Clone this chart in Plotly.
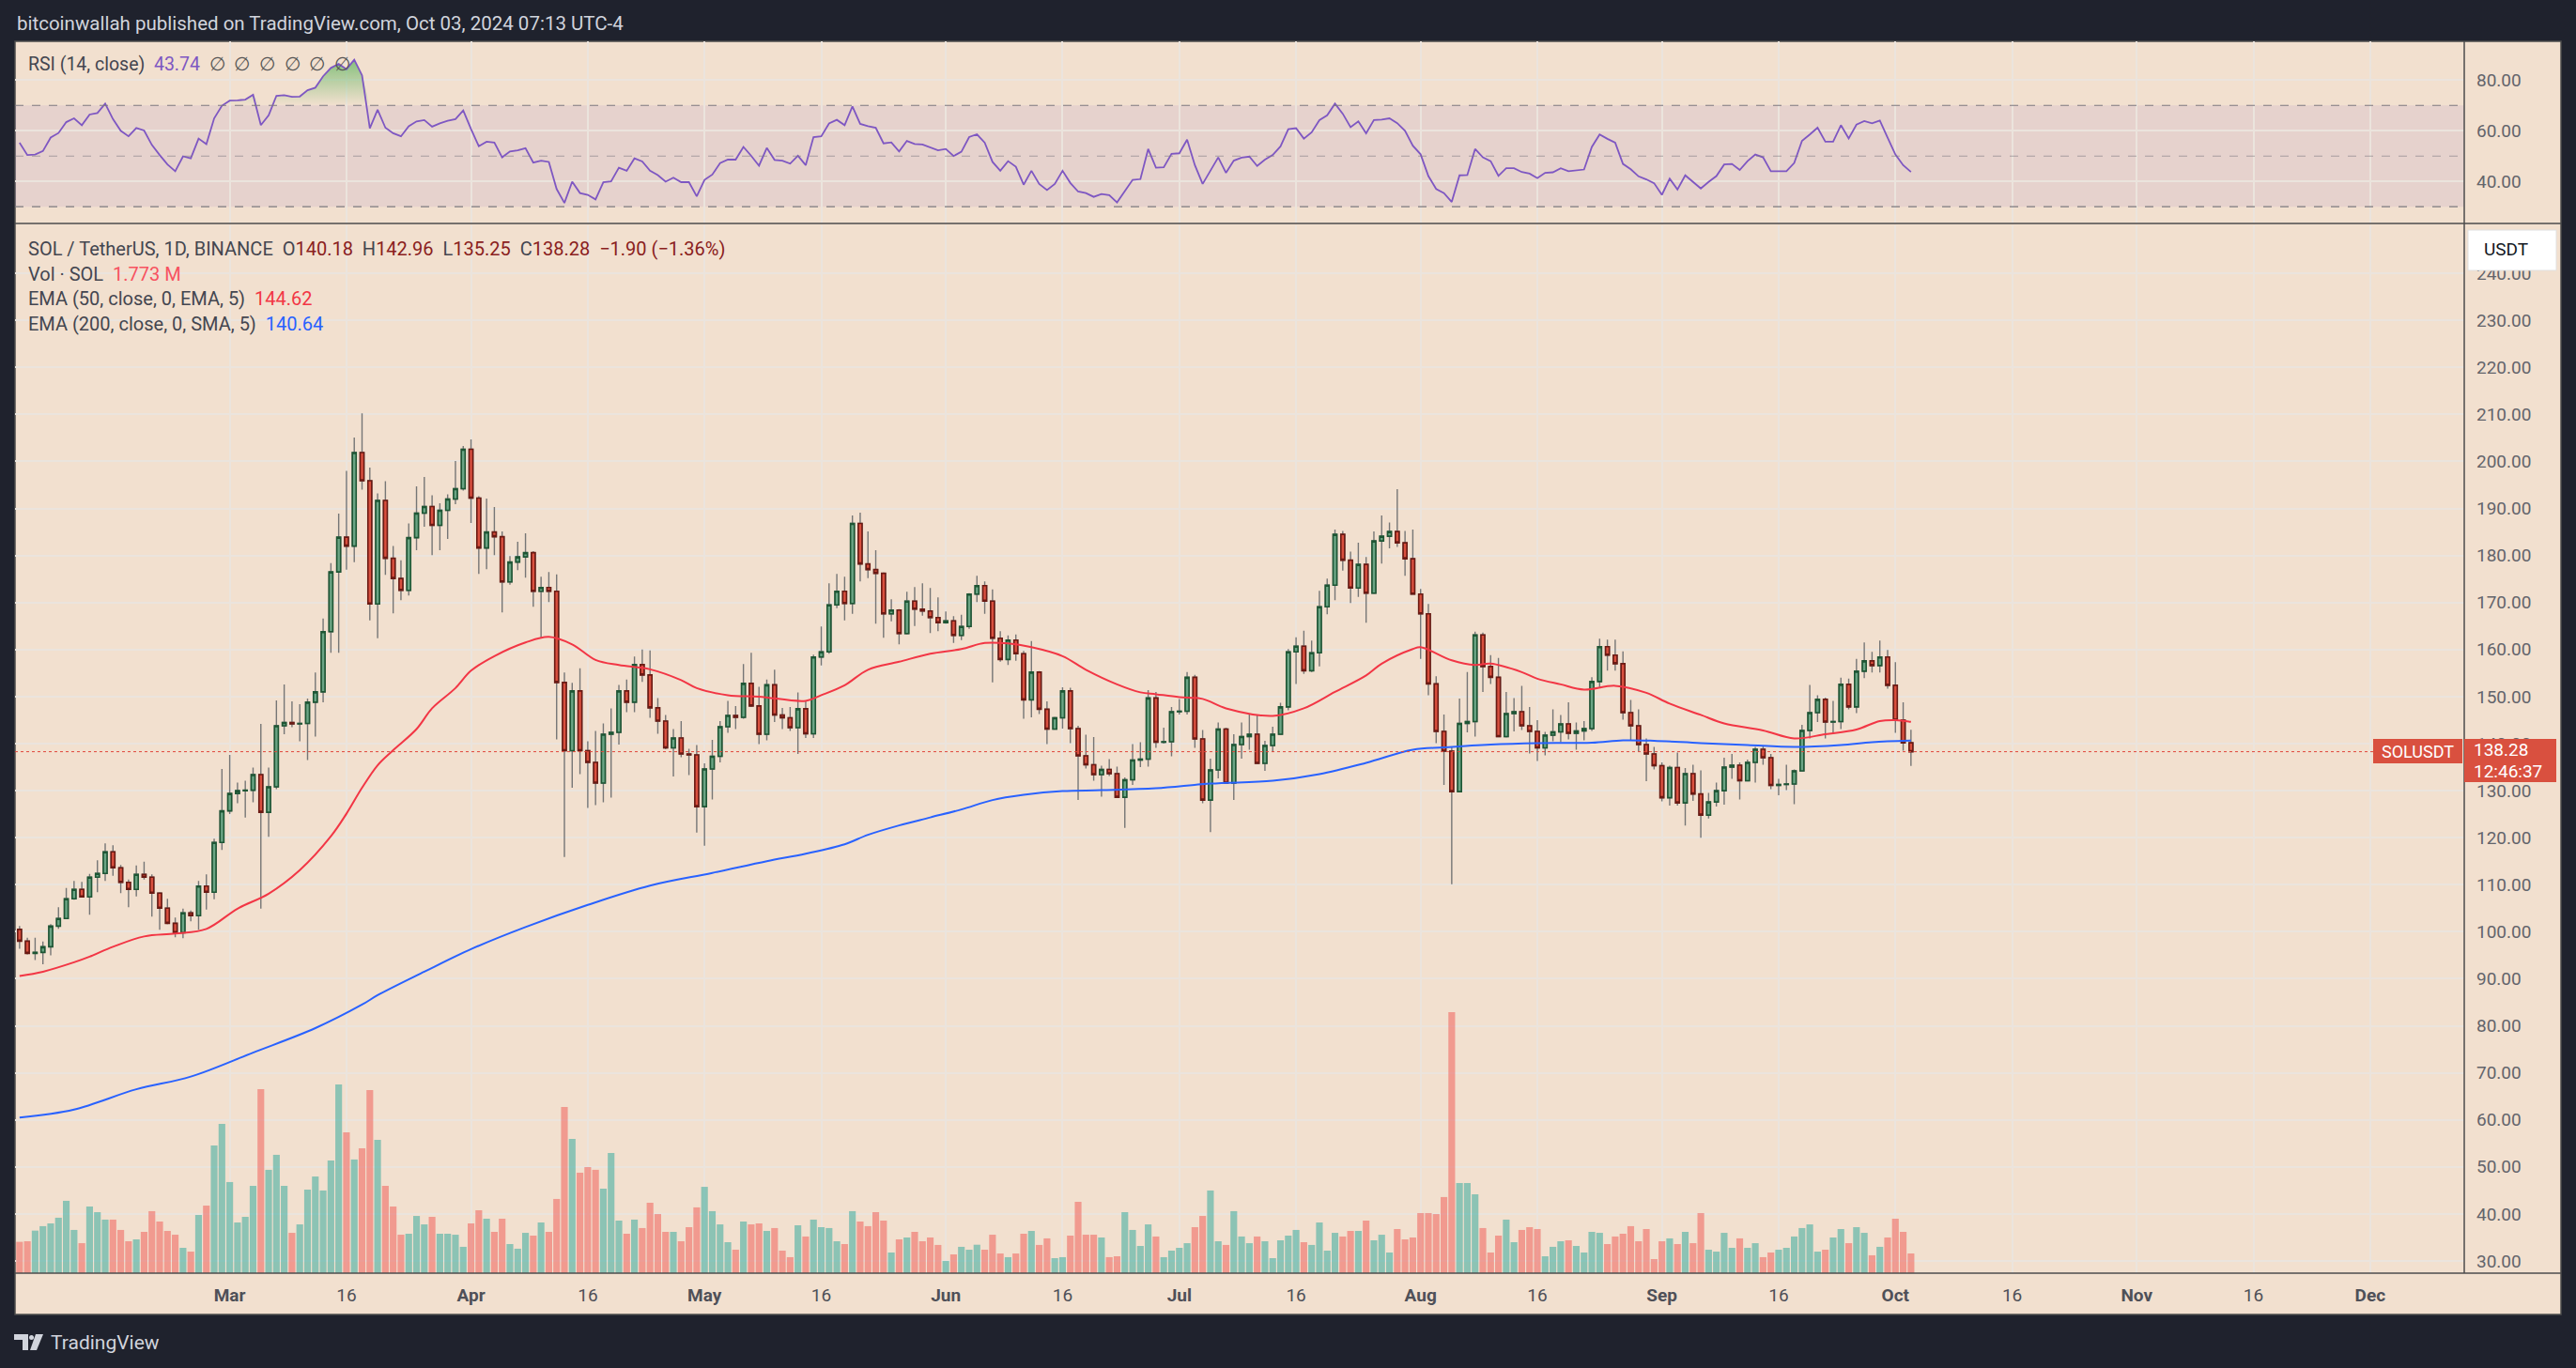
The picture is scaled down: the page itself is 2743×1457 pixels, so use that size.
import pandas as pd
import plotly.graph_objects as go

# daily SOL/USDT candles, 2024-02-03 .. 2024-10-03
opens = [100.5, 98.0, 95.4, 95.6, 96.8, 101.2, 102.8, 107.0, 109.0, 107.4,
         111.6, 112.4, 117.0, 113.6, 110.5, 109.0, 112.2, 111.6, 108.2, 105.0,
         101.8, 99.8, 104.0, 103.4, 109.7, 108.4, 119.0, 125.7, 129.4, 130.0,
         130.1, 133.4, 125.4, 130.8, 143.8, 144.5, 144.2, 144.3, 148.8, 151.0,
         163.8, 176.5, 183.9, 182.0, 201.9, 195.9, 169.7, 191.7, 179.4, 175.1,
         172.6, 183.8, 189.0, 190.4, 186.4, 189.6, 192.0, 194.2, 202.6, 192.2,
         181.6, 185.0, 184.0, 174.4, 178.6, 179.7, 180.6, 172.4, 173.2, 172.4,
         153.0, 138.5, 151.2, 138.5, 136.0, 131.6, 142.0, 142.4, 151.2, 148.8,
         156.8, 154.6, 147.6, 144.8, 139.1, 141.2, 137.8, 137.6, 126.6, 134.6,
         137.3, 143.6, 146.0, 145.6, 152.8, 148.0, 142.0, 152.5, 146.1, 145.5,
         143.4, 147.4, 142.1, 158.4, 159.5, 169.5, 172.4, 169.8, 186.8, 178.2,
         177.0, 176.2, 167.6, 168.4, 163.4, 170.3, 168.6, 168.2, 166.8, 165.7,
         166.1, 163.0, 164.9, 171.8, 173.6, 170.3, 162.4, 157.9, 162.0, 159.1,
         149.3, 155.2, 147.3, 143.1, 145.5, 151.2, 143.2, 137.4, 135.5, 133.4,
         134.5, 133.6, 128.6, 132.3, 136.5, 136.7, 149.7, 140.3, 140.4, 146.8,
         146.9, 154.1, 141.0, 128.0, 134.4, 143.1, 131.6, 139.8, 141.5, 142.0,
         135.8, 139.6, 142.0, 147.8, 159.5, 160.7, 155.5, 159.3, 169.1, 173.7,
         184.5, 179.0, 173.1, 178.1, 172.0, 183.1, 184.1, 185.1, 182.7, 179.3,
         171.8, 167.6, 152.7, 142.6, 138.4, 129.8, 144.3, 144.7, 163.1, 156.4,
         154.1, 141.5, 146.4, 146.8, 143.8, 142.6, 139.1, 141.8, 142.5, 144.2,
         142.2, 142.7, 143.2, 153.2, 160.6, 158.8, 157.0, 146.6, 143.8, 139.8,
         137.8, 135.3, 128.5, 134.9, 127.4, 133.6, 129.3, 124.8, 127.6, 130.0,
         135.0, 135.4, 132.1, 136.0, 138.8, 137.0, 131.1, 131.3, 131.4, 134.2,
         142.8, 146.6, 149.4, 144.6, 144.7, 152.6, 147.8, 155.4, 157.6, 156.6,
         158.4, 152.4, 145.0, 140.18]
highs = [101.2, 98.7, 98.7, 97.9, 101.6, 105.2, 109.3, 110.8, 110.6, 112.3,
         115.2, 118.8, 118.4, 114.2, 111.1, 114.1, 114.9, 112.2, 108.4, 107.0,
         103.0, 104.9, 104.5, 110.8, 112.2, 119.8, 134.6, 137.6, 131.7, 132.1,
         134.9, 144.2, 134.9, 149.2, 152.6, 149.0, 148.4, 149.6, 155.1, 166.6,
         178.4, 188.9, 198.0, 205.1, 210.2, 198.7, 193.2, 195.8, 182.0, 179.0,
         186.8, 194.7, 196.7, 192.8, 191.1, 193.0, 200.1, 203.3, 204.7, 192.6,
         192.1, 190.3, 185.1, 179.9, 182.9, 184.7, 180.9, 175.5, 176.5, 176.0,
         155.1, 152.9, 156.0, 140.5, 142.7, 144.3, 147.5, 152.5, 153.6, 158.5,
         160.0, 159.8, 149.7, 146.1, 143.1, 144.8, 138.9, 139.7, 135.8, 140.8,
         144.8, 149.1, 148.0, 156.9, 159.3, 152.1, 153.6, 155.7, 147.6, 147.8,
         150.9, 149.0, 158.9, 164.9, 174.1, 176.1, 175.5, 188.5, 189.1, 185.1,
         181.1, 176.4, 170.7, 168.6, 172.3, 173.3, 174.1, 173.1, 171.1, 168.1,
         167.1, 167.4, 172.0, 175.7, 174.5, 172.8, 163.9, 163.0, 163.2, 159.7,
         161.8, 155.4, 149.0, 145.7, 152.0, 151.9, 143.8, 141.9, 141.4, 135.3,
         136.7, 135.1, 132.8, 139.9, 140.3, 151.4, 151.0, 143.4, 147.8, 149.5,
         155.2, 154.6, 142.9, 136.8, 144.5, 143.4, 142.0, 144.5, 146.2, 146.2,
         140.6, 143.6, 148.7, 160.1, 162.6, 164.0, 161.9, 172.5, 175.1, 185.5,
         185.2, 180.8, 182.7, 179.7, 185.1, 188.5, 187.0, 194.1, 185.2, 185.5,
         172.9, 169.7, 154.3, 146.2, 139.4, 149.6, 155.2, 163.8, 163.6, 158.8,
         158.2, 151.0, 149.7, 152.3, 147.8, 145.0, 142.5, 147.3, 146.1, 148.8,
         144.5, 144.8, 154.1, 162.3, 162.1, 162.1, 159.6, 149.3, 147.3, 141.1,
         139.3, 136.0, 135.3, 138.1, 134.8, 135.5, 134.3, 129.5, 131.7, 137.0,
         137.8, 136.0, 136.6, 139.3, 139.5, 137.8, 132.5, 135.5, 134.5, 144.0,
         152.5, 150.3, 149.8, 149.1, 154.0, 153.8, 158.0, 161.5, 159.5, 161.9,
         159.9, 157.3, 148.8, 142.96]
lows = [96.4, 95.2, 94.0, 93.1, 95.0, 100.6, 102.8, 106.8, 107.4, 103.6,
        108.4, 110.8, 111.9, 108.2, 105.2, 107.5, 111.1, 103.2, 100.4, 101.6,
        98.8, 98.6, 102.2, 100.4, 104.7, 106.9, 117.4, 125.0, 127.3, 124.3,
        127.5, 104.9, 120.2, 130.3, 142.0, 143.5, 140.5, 136.5, 141.5, 148.8,
        159.3, 159.3, 177.0, 178.6, 194.0, 166.2, 162.4, 175.9, 167.7, 170.5,
        171.5, 181.1, 186.1, 180.1, 181.1, 183.5, 190.9, 193.8, 186.9, 176.1,
        177.1, 180.1, 167.9, 173.8, 176.9, 175.3, 169.1, 162.5, 170.1, 140.9,
        115.9, 130.6, 133.5, 126.3, 126.9, 127.5, 128.5, 139.8, 146.7, 146.7,
        153.1, 145.5, 142.1, 138.8, 133.0, 137.1, 133.3, 121.1, 118.3, 128.1,
        136.0, 142.3, 143.1, 145.3, 147.8, 139.9, 140.7, 144.6, 143.1, 142.7,
        137.8, 141.2, 141.2, 156.6, 159.1, 168.8, 166.2, 167.6, 174.5, 175.2,
        165.5, 162.5, 166.0, 161.1, 163.2, 165.0, 167.2, 163.5, 163.9, 165.5,
        161.4, 162.0, 164.4, 170.1, 167.6, 153.0, 157.4, 156.7, 157.6, 145.3,
        145.6, 146.3, 139.9, 143.0, 143.2, 140.1, 128.0, 134.7, 132.1, 128.7,
        133.1, 128.4, 122.1, 131.2, 135.0, 135.1, 139.1, 140.0, 137.3, 146.2,
        146.2, 139.1, 127.3, 121.2, 132.6, 131.4, 128.0, 136.8, 138.7, 135.6,
        134.2, 138.2, 141.9, 147.1, 152.7, 154.8, 155.2, 156.4, 167.5, 170.5,
        176.8, 169.9, 171.2, 165.7, 171.9, 178.3, 181.5, 181.8, 175.7, 171.7,
        158.0, 150.3, 140.1, 131.2, 110.1, 129.6, 142.4, 141.5, 151.0, 152.7,
        141.4, 141.3, 142.6, 142.9, 137.9, 136.3, 137.5, 140.5, 140.3, 140.9,
        138.7, 140.7, 142.7, 151.8, 155.5, 155.5, 145.1, 140.6, 138.3, 132.0,
        134.5, 127.7, 126.8, 126.8, 122.6, 127.8, 120.0, 124.1, 126.6, 127.0,
        132.5, 128.1, 132.0, 131.7, 135.5, 130.3, 129.0, 130.1, 127.1, 134.1,
        141.1, 144.6, 141.1, 142.1, 143.1, 147.3, 146.5, 153.9, 155.1, 155.1,
        151.7, 142.3, 138.5, 135.25]
closes = [98.0, 95.4, 95.6, 96.8, 101.2, 102.8, 107.0, 109.0, 107.4, 111.6,
          112.4, 117.0, 113.6, 110.5, 109.0, 112.2, 111.6, 108.2, 105.0, 101.8,
          99.8, 104.0, 103.4, 109.7, 108.4, 119.0, 125.7, 129.4, 130.0, 130.1,
          133.4, 125.4, 130.8, 143.8, 144.5, 144.2, 144.3, 148.8, 151.0, 163.8,
          176.5, 183.9, 182.0, 201.9, 195.9, 169.7, 191.7, 179.4, 175.1, 172.6,
          183.8, 189.0, 190.4, 186.4, 189.6, 192.0, 194.2, 202.6, 192.2, 181.6,
          185.0, 184.0, 174.4, 178.6, 179.7, 180.6, 172.4, 173.2, 172.4, 153.0,
          138.5, 151.2, 138.5, 136.0, 131.6, 142.0, 142.4, 151.2, 148.8, 156.8,
          154.6, 147.6, 144.8, 139.1, 141.2, 137.8, 137.6, 126.6, 134.6, 137.3,
          143.6, 146.0, 145.6, 152.8, 148.0, 142.0, 152.5, 146.1, 145.5, 143.4,
          147.4, 142.1, 158.4, 159.5, 169.5, 172.4, 169.8, 186.8, 178.2, 177.0,
          176.2, 167.6, 168.4, 163.4, 170.3, 168.6, 168.2, 166.8, 165.7, 166.1,
          163.0, 164.9, 171.8, 173.6, 170.3, 162.4, 157.9, 162.0, 159.1, 149.3,
          155.2, 147.3, 143.1, 145.5, 151.2, 143.2, 137.4, 135.5, 133.4, 134.5,
          133.6, 128.6, 132.3, 136.5, 136.7, 149.7, 140.3, 140.4, 146.8, 146.9,
          154.1, 141.0, 128.0, 134.4, 143.1, 131.6, 139.8, 141.5, 142.0, 135.8,
          139.6, 142.0, 147.8, 159.5, 160.7, 155.5, 159.3, 169.1, 173.7, 184.5,
          179.0, 173.1, 178.1, 172.0, 183.1, 184.1, 185.1, 182.7, 179.3, 171.8,
          167.6, 152.7, 142.6, 138.4, 129.8, 144.3, 144.7, 163.1, 156.4, 154.1,
          141.5, 146.4, 146.8, 143.8, 142.6, 139.1, 141.8, 142.5, 144.2, 142.2,
          142.7, 143.2, 153.2, 160.6, 158.8, 157.0, 146.6, 143.8, 139.8, 137.8,
          135.3, 128.5, 134.9, 127.4, 133.6, 129.3, 124.8, 127.6, 130.0, 135.0,
          135.4, 132.1, 136.0, 138.8, 137.0, 131.1, 131.3, 131.4, 134.2, 142.8,
          146.6, 149.4, 144.6, 144.7, 152.6, 147.8, 155.4, 157.6, 156.6, 158.4,
          152.4, 145.0, 140.18, 138.28]
# volume, millions of SOL
volumes = [2.82, 2.87, 3.83, 4.23, 4.48, 4.99, 6.51, 3.89, 2.70, 6.00,
           5.49, 4.82, 4.82, 3.89, 2.87, 3.04, 3.72, 5.58, 4.65, 3.80,
           3.46, 2.28, 1.94, 5.24, 6.08, 11.49, 13.44, 8.20, 4.56, 5.07,
           7.86, 16.56, 9.30, 10.65, 7.86, 3.63, 4.39, 7.52, 8.70, 7.44,
           10.14, 16.99, 12.68, 10.23, 11.24, 16.48, 12.00, 7.86, 6.00, 3.46,
           3.55, 5.15, 4.39, 5.07, 3.55, 3.55, 3.46, 2.37, 4.48, 5.66,
           4.90, 3.72, 4.90, 2.62, 2.20, 3.63, 3.38, 4.56, 3.72, 6.68,
           14.96, 12.08, 9.04, 9.55, 9.30, 7.61, 10.82, 4.73, 3.55, 4.82,
           4.06, 6.34, 5.32, 3.72, 3.72, 2.87, 4.14, 5.92, 7.77, 5.58,
           4.39, 2.79, 2.11, 4.65, 4.39, 4.48, 3.80, 4.06, 2.03, 1.44,
           4.31, 3.30, 4.82, 4.14, 4.06, 2.87, 2.62, 5.58, 4.65, 4.23,
           5.49, 4.73, 1.86, 3.04, 3.21, 3.72, 2.87, 3.21, 2.54, 1.10,
           1.69, 2.37, 2.11, 2.56, 2.11, 3.46, 1.77, 1.44, 1.77, 3.55,
           3.80, 2.54, 3.13, 1.35, 1.44, 3.38, 6.42, 3.46, 3.46, 3.21,
           1.44, 1.52, 5.49, 3.89, 2.45, 4.39, 3.30, 1.44, 2.03, 2.28,
           2.70, 4.14, 5.15, 7.44, 2.87, 2.54, 5.58, 3.30, 2.70, 3.30,
           2.87, 1.35, 2.96, 3.38, 3.89, 2.79, 2.54, 4.56, 2.03, 3.63,
           3.30, 3.80, 3.80, 4.73, 2.96, 3.46, 1.86, 3.97, 3.04, 3.21,
           5.41, 5.41, 5.32, 6.85, 23.49, 8.11, 8.11, 7.10, 4.06, 1.86,
           3.38, 4.82, 2.79, 3.89, 4.14, 3.97, 1.52, 2.37, 2.87, 2.96,
           2.45, 1.86, 3.72, 3.63, 2.62, 3.30, 3.55, 4.23, 2.87, 3.97,
           1.27, 2.87, 3.13, 2.62, 3.72, 2.70, 5.41, 2.11, 1.94, 3.63,
           2.28, 3.13, 2.28, 2.70, 1.44, 1.86, 2.11, 2.28, 3.30, 4.06,
           4.39, 1.94, 2.11, 3.21, 3.97, 2.70, 4.14, 3.63, 1.61, 2.37,
           3.21, 4.90, 3.72, 1.773]
rsi = [55.3, 50.4, 50.6, 52.0, 57.3, 59.1, 63.4, 64.9, 62.2, 66.4,
       67.0, 70.7, 64.6, 60.0, 57.8, 61.1, 60.1, 54.4, 50.4, 46.7,
       44.0, 49.9, 49.1, 56.9, 54.7, 64.9, 69.9, 71.9, 72.0, 72.3,
       74.2, 62.2, 66.1, 73.8, 74.0, 73.4, 73.5, 76.0, 77.0, 81.5,
       84.8, 86.4, 84.3, 88.0, 81.9, 61.0, 68.3, 61.2, 59.0, 57.8,
       61.8, 63.7, 64.2, 61.6, 62.9, 63.9, 64.6, 68.0, 60.7, 53.9,
       55.7, 55.3, 49.5, 51.8, 52.3, 53.1, 47.4, 48.2, 47.7, 37.0,
       31.5, 39.9, 35.4, 34.7, 32.9, 39.7, 40.0, 45.4, 44.2, 49.1,
       47.9, 44.2, 42.5, 39.9, 41.5, 39.7, 39.7, 34.1, 40.6, 42.7,
       47.2, 48.6, 48.6, 53.6, 50.1, 46.2, 53.2, 48.5, 48.2, 47.0,
       50.1, 46.4, 57.5, 57.8, 62.9, 64.3, 62.2, 69.6, 62.7, 61.8,
       61.2, 55.0, 55.4, 51.8, 56.0, 54.8, 54.6, 53.3, 52.3, 52.8,
       50.0, 51.7, 57.5, 58.6, 55.3, 47.7, 44.2, 48.0, 45.8, 38.7,
       44.2, 39.0, 36.6, 39.0, 44.2, 39.4, 36.0, 35.4, 33.9, 35.0,
       34.6, 31.7, 36.0, 40.6, 40.9, 52.8, 45.4, 45.6, 50.9, 51.1,
       56.5, 46.4, 39.0, 44.3, 49.5, 43.4, 48.2, 49.4, 49.8, 46.1,
       48.6, 50.4, 53.8, 60.6, 61.0, 56.9, 59.4, 64.2, 66.1, 70.7,
       66.7, 61.4, 63.7, 59.0, 64.2, 64.4, 64.9, 63.0, 60.0, 54.1,
       50.7, 42.1, 37.0, 35.4, 31.9, 42.4, 42.5, 52.8, 49.5, 48.0,
       42.2, 45.2, 45.2, 43.7, 43.1, 41.3, 43.4, 43.6, 45.2, 44.0,
       44.3, 44.7, 53.6, 58.5, 56.8, 55.3, 46.9, 44.8, 42.0, 40.8,
       39.3, 34.7, 41.1, 36.8, 42.4, 39.9, 37.2, 39.8, 42.1, 46.7,
       46.9, 44.5, 48.0, 50.6, 49.5, 44.0, 44.0, 44.0, 47.3, 56.0,
       58.5, 61.2, 55.7, 55.7, 62.2, 57.0, 62.4, 63.8, 62.9, 64.0,
       57.3, 50.6, 46.4, 43.74]

ema50_dates = ["2024-02-03", "2024-02-06", "2024-02-10", "2024-02-12", "2024-02-15",
               "2024-02-19", "2024-02-23", "2024-02-27", "2024-03-02", "2024-03-06",
               "2024-03-10", "2024-03-14", "2024-03-16", "2024-03-18", "2024-03-20",
               "2024-03-22", "2024-03-25", "2024-03-27", "2024-03-30", "2024-04-01",
               "2024-04-04", "2024-04-08", "2024-04-11", "2024-04-14", "2024-04-17",
               "2024-04-20", "2024-04-24", "2024-04-28", "2024-04-30", "2024-05-04",
               "2024-05-08", "2024-05-14", "2024-05-16", "2024-05-19", "2024-05-22",
               "2024-05-26", "2024-05-30", "2024-06-03", "2024-06-06", "2024-06-09",
               "2024-06-12", "2024-06-16", "2024-06-19", "2024-06-23", "2024-06-26",
               "2024-06-28", "2024-07-01", "2024-07-04", "2024-07-07", "2024-07-13",
               "2024-07-17", "2024-07-21", "2024-07-25", "2024-07-27", "2024-07-31",
               "2024-08-01", "2024-08-05", "2024-08-08", "2024-08-10", "2024-08-14",
               "2024-08-16", "2024-08-19", "2024-08-22", "2024-08-26", "2024-08-30",
               "2024-09-02", "2024-09-06", "2024-09-09", "2024-09-14", "2024-09-18",
               "2024-09-22", "2024-09-26", "2024-09-29", "2024-10-01", "2024-10-03"]
ema50_vals = [90.6, 91.5, 93.5, 94.7, 96.8, 99.0, 99.6, 100.6, 104.9, 108.1,
              113.1, 120.3, 125.1, 130.6, 135.4, 138.6, 143.1, 147.5, 151.8, 155.5,
              158.6, 161.5, 162.7, 161.1, 157.8, 156.7, 155.8, 153.5, 151.8, 150.3,
              150.0, 149.1, 150.3, 152.4, 155.7, 157.4, 159.1, 160.1, 161.4, 161.3,
              160.5, 158.6, 155.7, 152.6, 150.9, 150.5, 149.9, 149.5, 147.5, 145.9,
              147.5, 151.0, 154.5, 157.0, 160.1, 160.5, 157.7, 156.7, 157.0, 155.2,
              153.8, 152.6, 151.5, 152.3, 150.8, 148.5, 146.1, 144.3, 142.8, 141.1,
              142.0, 143.0, 144.8, 145.0, 144.62]
ema200_dates = ["2024-02-03", "2024-02-10", "2024-02-18", "2024-02-25", "2024-03-04",
                "2024-03-12", "2024-03-18", "2024-03-20", "2024-03-26", "2024-04-01",
                "2024-04-08", "2024-04-16", "2024-04-24", "2024-05-02", "2024-05-09",
                "2024-05-14", "2024-05-19", "2024-05-22", "2024-05-26", "2024-05-30",
                "2024-06-03", "2024-06-07", "2024-06-11", "2024-06-16", "2024-06-21",
                "2024-06-28", "2024-07-05", "2024-07-13", "2024-07-19", "2024-07-25",
                "2024-07-31", "2024-08-04", "2024-08-10", "2024-08-16", "2024-08-23",
                "2024-08-27", "2024-08-31", "2024-09-06", "2024-09-12", "2024-09-18",
                "2024-09-24", "2024-09-28", "2024-10-03"]
ema200_vals = [60.5, 62.2, 66.5, 69.2, 74.3, 79.5, 84.5, 86.5, 91.5, 96.3,
               101.0, 105.7, 109.8, 112.5, 115.0, 116.6, 118.6, 120.6, 122.6, 124.3,
               126.0, 128.0, 129.1, 129.9, 130.1, 130.5, 131.5, 132.1, 133.5, 135.9,
               138.7, 139.2, 139.8, 140.1, 140.2, 140.7, 140.6, 140.1, 139.7, 139.3,
               139.7, 140.3, 140.64]

tick_dates = ["2024-03-01", "2024-03-16", "2024-04-01", "2024-04-16", "2024-05-01",
              "2024-05-16", "2024-06-01", "2024-06-16", "2024-07-01", "2024-07-16",
              "2024-08-01", "2024-08-16", "2024-09-01", "2024-09-16", "2024-10-01",
              "2024-10-16", "2024-11-01", "2024-11-16", "2024-12-01"]
tick_text = ["Mar", "16", "Apr", "16", "May", "16", "Jun", "16", "Jul", "16",
             "Aug", "16", "Sep", "16", "Oct", "16", "Nov", "16", "Dec"]
price_ticks = list(range(30, 250, 10))
rsi_ticks = [40, 60, 80]

dates = pd.date_range("2024-02-03", periods=len(closes), freq="D")

W, H = 2743, 1457
def px(x):
    return x / W
def py(y):
    return 1 - y / H

BG = "#f2e0cf"
DARK = "#1f222d"
GRID = "#ebe4dd"
FONT = "Roboto, Liberation Sans, sans-serif"
UP_BODY, UP_EDGE = "#6ba585", "#1e5634"
DN_BODY, DN_EDGE = "#d9503f", "#6b1a13"
WICK = "#767676"

is_up = [c >= o for o, c in zip(opens, closes)]
vol_colors = ["rgba(38,166,154,0.5)" if u else "rgba(239,83,80,0.5)" for u in is_up]

fig = go.Figure()

# volume overlay
fig.add_trace(go.Bar(x=dates, y=volumes, yaxis="y2", marker_color=vol_colors,
                     marker_line_width=0, width=0.86 * 86400000, hoverinfo="skip"))

# wicks (gray), then bodies with dark borders on top
fig.add_trace(go.Candlestick(
    x=dates, open=opens, high=highs, low=lows, close=closes,
    increasing=dict(line=dict(color=WICK, width=1.4), fillcolor=WICK),
    decreasing=dict(line=dict(color=WICK, width=1.4), fillcolor=WICK),
    whiskerwidth=0, hoverinfo="skip"))
fig.add_trace(go.Candlestick(
    x=dates, open=opens, close=closes,
    high=[max(o, c) for o, c in zip(opens, closes)],
    low=[min(o, c) for o, c in zip(opens, closes)],
    increasing=dict(line=dict(color=UP_EDGE, width=1.6), fillcolor=UP_BODY),
    decreasing=dict(line=dict(color=DN_EDGE, width=1.6), fillcolor=DN_BODY),
    whiskerwidth=0, hoverinfo="skip"))

fig.add_trace(go.Scatter(x=ema200_dates, y=ema200_vals, mode="lines",
                         line=dict(color="#2962ff", width=2, shape="spline"), hoverinfo="skip"))
fig.add_trace(go.Scatter(x=ema50_dates, y=ema50_vals, mode="lines",
                         line=dict(color="#f23645", width=2, shape="spline"), hoverinfo="skip"))

# RSI pane
fig.add_trace(go.Scatter(x=dates, y=[70] * len(rsi), xaxis="x2", yaxis="y3", mode="lines",
                         line=dict(width=0), hoverinfo="skip"))
fig.add_trace(go.Scatter(x=dates, y=[max(v, 70) for v in rsi], xaxis="x2", yaxis="y3",
                         mode="lines", line=dict(width=0), fill="tonexty",
                         fillgradient=dict(type="vertical",
                                           colorscale=[[0, "rgba(76,175,80,0)"],
                                                       [1, "rgba(76,175,80,0.65)"]]),
                         hoverinfo="skip"))
fig.add_trace(go.Scatter(x=dates, y=rsi, xaxis="x2", yaxis="y3", mode="lines",
                         line=dict(color="#7e57c2", width=1.8), hoverinfo="skip"))

shapes = [
    dict(type="rect", xref="paper", yref="paper", x0=px(16), x1=px(2727), y0=py(1400), y1=py(44),
         fillcolor=BG, line=dict(color="#4c4c4c", width=1.5), layer="below"),
    dict(type="rect", xref="paper", yref="y3", x0=px(16), x1=px(2624), y0=30, y1=70,
         fillcolor="rgba(126,87,194,0.1)", line=dict(width=0), layer="below"),
    dict(type="line", xref="paper", yref="y3", x0=px(16), x1=px(2624), y0=70, y1=70,
         line=dict(color="#7d7a80", width=1.2, dash="dash")),
    dict(type="line", xref="paper", yref="y3", x0=px(16), x1=px(2624), y0=30, y1=30,
         line=dict(color="#7d7a80", width=1.2, dash="dash")),
    dict(type="line", xref="paper", yref="y3", x0=px(16), x1=px(2624), y0=50, y1=50,
         line=dict(color="rgba(125,122,128,0.6)", width=1.2, dash="dash")),
    dict(type="line", xref="paper", yref="paper", x0=px(16), x1=px(2727), y0=py(238), y1=py(238),
         line=dict(color="#4c4c4c", width=1.5)),
    dict(type="line", xref="paper", yref="paper", x0=px(2624), x1=px(2624), y0=py(44), y1=py(1356),
         line=dict(color="#4c4c4c", width=1.5)),
    dict(type="line", xref="paper", yref="paper", x0=px(16), x1=px(2727), y0=py(1356), y1=py(1356),
         line=dict(color="#4c4c4c", width=1.5)),
    dict(type="line", xref="paper", yref="y", x0=px(16), x1=px(2527), y0=closes[-1], y1=closes[-1],
         line=dict(color="#e0463a", width=1, dash="dot")),
    dict(type="rect", xref="paper", yref="paper", x0=px(2527), x1=px(2622), y0=py(813), y1=py(787),
         fillcolor="#d9503f", line=dict(width=0)),
    dict(type="rect", xref="paper", yref="paper", x0=px(2624), x1=px(2722), y0=py(833), y1=py(787),
         fillcolor="#d9503f", line=dict(width=0)),
    dict(type="rect", xref="paper", yref="paper", x0=px(2628), x1=px(2722), y0=py(288), y1=py(245),
         fillcolor="#ffffff", line=dict(color="#e0e0e0", width=1)),
    # TradingView logo mark
    dict(type="path", xref="paper", yref="paper",
         path=f"M {px(15)},{py(1421)} L {px(30)},{py(1421)} L {px(30)},{py(1438)} L {px(24)},{py(1438)} "
              f"L {px(24)},{py(1427)} L {px(15)},{py(1427)} Z",
         fillcolor="#d1d4dc", line=dict(width=0)),
    dict(type="circle", xref="paper", yref="paper", x0=px(31), x1=px(36), y0=py(1427), y1=py(1422),
         fillcolor="#d1d4dc", line=dict(width=0)),
    dict(type="path", xref="paper", yref="paper",
         path=f"M {px(38)},{py(1421)} L {px(46)},{py(1421)} L {px(39)},{py(1438)} L {px(32)},{py(1438)} Z",
         fillcolor="#d1d4dc", line=dict(width=0)),
]

GRAY_TXT = "#444650"
VAL = "#8a2020"
def ann(x, y, text, color=GRAY_TXT, size=20, xanchor="left"):
    return dict(xref="paper", yref="paper", x=px(x), y=py(y), text=text, showarrow=False,
                xanchor=xanchor, yanchor="middle", font=dict(family=FONT, size=size, color=color))

annotations = [
    ann(16, 25, "bitcoinwallah published on TradingView.com, Oct 03, 2024 07:13 UTC-4", "#d1d4dc", 20.5),
    ann(28, 68, "RSI (14, close)  <span style='color:#7e57c2'>43.74</span>  "
                "<span style='color:#555'>∅  ∅  ∅  ∅  ∅  ∅</span>", size=19.5),
    ann(28, 265, "SOL / TetherUS, 1D, BINANCE  "
                 f"O<span style='color:{VAL}'>140.18</span>  H<span style='color:{VAL}'>142.96</span>  "
                 f"L<span style='color:{VAL}'>135.25</span>  C<span style='color:{VAL}'>138.28</span>  "
                 f"<span style='color:{VAL}'>−1.90 (−1.36%)</span>"),
    ann(28, 292, "Vol · SOL  <span style='color:#f7525f'>1.773 M</span>"),
    ann(28, 318, "EMA (50, close, 0, EMA, 5)  <span style='color:#f23645'>144.62</span>"),
    ann(28, 345, "EMA (200, close, 0, SMA, 5)  <span style='color:#2962ff'>140.64</span>"),
    ann(2574, 800, "SOLUSDT", "#ffffff", 18, "center"),
    ann(2632, 799, "138.28", "#ffffff", 19),
    ann(2632, 821, "12:46:37", "#ffffff", 19),
    ann(2643, 265, "USDT", "#131722", 19),
    ann(52, 1430, "TradingView", "#d1d4dc", 21),
]

fig.update_layout(
    width=W, height=H,
    margin=dict(l=0, r=0, t=0, b=0),
    paper_bgcolor=DARK, plot_bgcolor="rgba(0,0,0,0)",
    showlegend=False, hovermode=False,
    shapes=shapes, annotations=annotations,
    font=dict(family=FONT, size=19, color="#5f6068"),
    xaxis=dict(type="date", domain=[px(16), px(2624)], anchor="y",
               range=["2024-02-02 10:00", "2024-12-13 02:00"],
               tickvals=tick_dates,
               ticktext=[t if t.isdigit() else f"<b>{t}</b>" for t in tick_text],
               tickfont=dict(size=19, color="#4f5058"), ticklabelstandoff=10,
               showgrid=True, gridcolor=GRID, gridwidth=1.5, zeroline=False, showline=False,
               rangeslider=dict(visible=False)),
    xaxis2=dict(type="date", domain=[px(16), px(2624)], anchor="y3", matches="x",
                tickvals=tick_dates, showticklabels=False,
                showgrid=True, gridcolor=GRID, gridwidth=1.5, zeroline=False, showline=False),
    yaxis=dict(domain=[py(1356), py(240)], range=[27.4, 250.2], side="right", anchor="x",
               tickvals=price_ticks, tickformat=".2f", ticklabelstandoff=12,
               tickfont=dict(size=19, color="#63646b"),
               showgrid=True, gridcolor=GRID, gridwidth=1.5, zeroline=False, showline=False),
    yaxis2=dict(overlaying="y", range=[0, 94.3], visible=False, showgrid=False),
    yaxis3=dict(domain=[py(238), py(44)], range=[23.4, 95.3], side="right", anchor="x2",
                tickvals=rsi_ticks, tickformat=".2f", ticklabelstandoff=12,
                tickfont=dict(size=19, color="#63646b"),
                showgrid=True, gridcolor=GRID, gridwidth=1.5, zeroline=False, showline=False),
)

# the page's default 8px body margin would shift the whole figure
fig.write_html("out.html", config={"displayModeBar": False},
               post_script="document.body.style.margin='0';document.body.style.background='#1f222d';")
